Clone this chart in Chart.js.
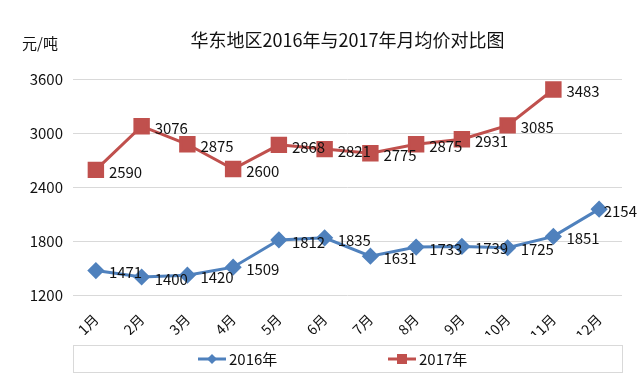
<!DOCTYPE html>
<html>
<head>
<meta charset="utf-8">
<script src="https://cdn.jsdelivr.net/npm/chart.js@4"></script>
<style>
    html, body { margin: 0; padding: 0; background: #fff; }
</style>
</head>
<body>
<canvas id="chart" width="640" height="384"></canvas>
<script>
// chart data
const months = ['1月', '2月', '3月', '4月', '5月', '6月', '7月', '8月', '9月', '10月', '11月', '12月'];
const prices2016 = [1471, 1400, 1420, 1509, 1812, 1835, 1631, 1733, 1739, 1725, 1851, 2154];
const prices2017 = [2590, 3076, 2875, 2600, 2868, 2821, 2775, 2875, 2931, 3085, 3483, null];
const yTicks = [1200, 1800, 2400, 3000, 3600];
const seriesNames = ['2016年', '2017年'];
const chartTitle = '华东地区2016年与2017年月均价对比图';
const unitLabel = '元/吨';

const FONT = '"Noto Sans CJK SC", "Noto Sans", sans-serif';
const BLUE = '#4F81BD';
const RED = '#C0504D';

const valueLabels = {
    id: 'valueLabels',
    afterDatasetsDraw(chart) {
        const ctx = chart.ctx;
        ctx.save();
        ctx.font = '15px ' + FONT;
        ctx.fillStyle = '#111';
        ctx.textAlign = 'left';
        ctx.textBaseline = 'middle';
        chart.data.datasets.forEach((ds, i) => {
            const meta = chart.getDatasetMeta(i);
            meta.data.forEach((pt, j) => {
                const v = ds.data[j];
                if (v === null || v === undefined) return;
                const txt = String(v);
                const w = ctx.measureText(txt).width;
                // keep the label inside the canvas like Excel does
                const x = Math.min(pt.x + 13, chart.width - w - 3);
                ctx.fillText(txt, x, pt.y + 2);
            });
        });
        ctx.restore();
    }
};

const decorations = {
    id: 'decorations',
    afterDraw(chart) {
        const ctx = chart.ctx;
        const area = chart.chartArea;
        ctx.save();

        // title and unit
        ctx.fillStyle = '#111';
        ctx.textBaseline = 'middle';
        ctx.textAlign = 'center';
        ctx.font = '18px ' + FONT;
        ctx.fillText(chartTitle, (area.left + area.right) / 2, 40);
        ctx.textAlign = 'left';
        ctx.font = '15px ' + FONT;
        ctx.fillText(unitLabel, 22, 43);

        // legend box
        ctx.strokeStyle = '#D9D9D9';
        ctx.lineWidth = 1;
        ctx.strokeRect(area.left + 0.5, 345.5, area.right - area.left, 27);

        const centers = [212, 402];
        chart.data.datasets.forEach((ds, i) => {
            const cx = centers[i];
            const cy = 359;
            ctx.strokeStyle = ds.borderColor;
            ctx.lineWidth = 3;
            ctx.beginPath();
            ctx.moveTo(cx - 14, cy);
            ctx.lineTo(cx + 14, cy);
            ctx.stroke();
            ctx.fillStyle = ds.backgroundColor;
            ctx.beginPath();
            if (ds.pointStyle === 'rectRot') {
                ctx.moveTo(cx - 5, cy);
                ctx.lineTo(cx, cy - 5);
                ctx.lineTo(cx + 5, cy);
                ctx.lineTo(cx, cy + 5);
                ctx.closePath();
            } else {
                ctx.rect(cx - 5, cy - 5, 10, 10);
            }
            ctx.fill();
            ctx.fillStyle = '#111';
            ctx.font = '15px ' + FONT;
            ctx.textAlign = 'left';
            ctx.fillText(ds.label, cx + 17, cy);
        });
        ctx.restore();
    }
};

const canvas = document.getElementById('chart');

const chart = new Chart(canvas, {
    type: 'line',
    data: {
        labels: months,
        datasets: [{
            label: seriesNames[0],
            data: prices2016,
            borderColor: BLUE,
            backgroundColor: BLUE,
            borderWidth: 3,
            pointStyle: 'rectRot',
            pointRadius: 6.5,
            pointHoverRadius: 6.5,
            tension: 0
        }, {
            label: seriesNames[1],
            data: prices2017,
            borderColor: RED,
            backgroundColor: RED,
            borderWidth: 3,
            pointStyle: 'rect',
            pointRadius: 9.5,
            pointHoverRadius: 9.5,
            tension: 0
        }]
    },
    options: {
        responsive: false,
        animation: false,
        layout: {
            padding: { top: 79, right: 18, bottom: 49, left: 0 }
        },
        plugins: {
            legend: { display: false },
            title: { display: false },
            tooltip: { enabled: false }
        },
        scales: {
            x: {
                offset: true,
                grid: { display: false },
                border: { display: false },
                ticks: {
                    color: '#111',
                    font: { size: 14, family: FONT },
                    minRotation: 45,
                    maxRotation: 45,
                    padding: 8
                },
                afterFit: s => { s.height = 40; }
            },
            y: {
                min: yTicks[0],
                max: yTicks[yTicks.length - 1],
                afterBuildTicks: s => { s.ticks = yTicks.map(v => ({ value: v })); },
                grid: { color: '#D9D9D9', drawTicks: false },
                border: { display: false },
                ticks: {
                    color: '#111',
                    font: { size: 15, family: FONT },
                    padding: 10,
                    callback: v => String(v)
                },
                afterFit: s => { s.width = 73; }
            }
        }
    },
    plugins: [valueLabels, decorations]
});
</script>
</body>
</html>
